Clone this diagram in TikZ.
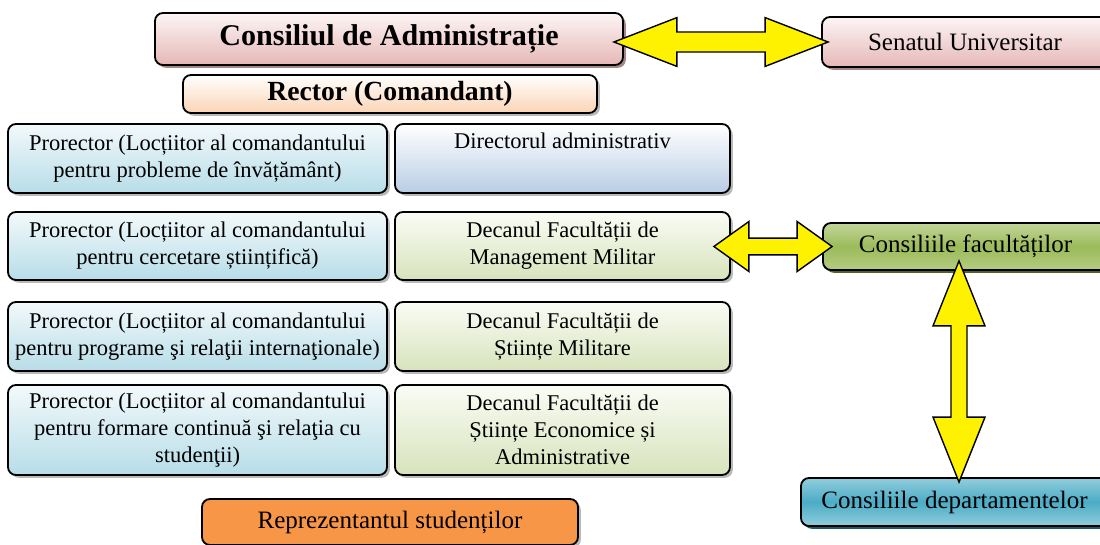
\documentclass[tikz,border=0pt]{standalone}
\usepackage{fontspec}
\setmainfont{Liberation Serif}
\usetikzlibrary{positioning}
\usetikzlibrary{shadows}
\usetikzlibrary{calc}

\definecolor{pinktop}{RGB}{253,245,245}
\definecolor{pinkbot}{RGB}{229,184,183}
\definecolor{pinkshad}{RGB}{165,135,135}
\definecolor{peachbot}{RGB}{251,212,180}
\definecolor{bluetop}{RGB}{243,249,251}
\definecolor{bluebot}{RGB}{183,221,232}
\definecolor{steelbot}{RGB}{185,205,229}
\definecolor{greentop}{RGB}{250,252,245}
\definecolor{greenbot}{RGB}{215,227,188}
\definecolor{factop}{RGB}{195,214,155}
\definecolor{facmid}{RGB}{155,187,89}
\definecolor{facbot}{RGB}{180,204,130}
\definecolor{facshad}{RGB}{79,98,40}
\definecolor{deptop}{RGB}{146,205,220}
\definecolor{depmid}{RGB}{75,172,198}
\definecolor{depshad}{RGB}{32,88,103}
\definecolor{studfill}{RGB}{247,150,70}

% fat double arrow: start, end, head length, head half width, shaft half width
\newcommand{\fatarrow}[5]{%
 \draw[fatarrow] (#1)
  -- ($(#1)!#3!(#2)!#4!90:(#2)$)  -- ($(#1)!#3!(#2)!#5!90:(#2)$)
  -- ($(#2)!#3!(#1)!#5!-90:(#1)$) -- ($(#2)!#3!(#1)!#4!-90:(#1)$)
  -- (#2)
  -- ($(#2)!#3!(#1)!#4!90:(#1)$)  -- ($(#2)!#3!(#1)!#5!90:(#1)$)
  -- ($(#1)!#3!(#2)!#5!-90:(#2)$) -- ($(#1)!#3!(#2)!#4!-90:(#2)$)
  -- cycle;}

\begin{document}
\begin{tikzpicture}[x=0.025cm, y=-0.025cm,
  box/.style={draw=black, line width=1.3pt, rounded corners=0.2cm, inner sep=0pt, align=center,
              font=\fontsize{16}{19.2}\selectfont,
              drop shadow={shadow xshift=0.07cm, shadow yshift=-0.07cm, fill=#1, opacity=1}},
  box/.default=gray!55,
  boxsize/.style 2 args={minimum width=#1*0.025cm, minimum height=#2*0.025cm},
  bigfont/.style={font=\fontsize{17.8}{21}\selectfont},
  fatarrow/.style={draw=black, line width=1pt, fill=yellow, line join=miter}]

 \useasboundingbox (0,0) rectangle (1100,545);
 \clip (0,0) rectangle (1100,545);

 % top row
 \node[box=pinkshad, boxsize={468}{52}, top color=pinktop, bottom color=pinkbot,
       font=\bfseries\fontsize{21.4}{25}\selectfont]               (cadmin) at (389,39)  {Consiliul de Administrație};
 \node[box=pinkshad, boxsize={286}{50}, top color=pinktop, bottom color=pinkbot, bigfont] (senat) at (965,42) {Senatul Universitar};
 \node[box, boxsize={414}{38}, top color=white, bottom color=peachbot,
       font=\bfseries\fontsize{19.7}{23}\selectfont]               (rector) at (390,94)  {Rector (Comandant)};

 % prorectori
 \node[box, boxsize={379}{69}, top color=bluetop, bottom color=bluebot] (pr-inv)  at (197.5,158.5) {Prorector (Locțiitor al comandantului\\pentru probleme de învățământ)};
 \node[box, boxsize={379}{68}, top color=bluetop, bottom color=bluebot] (pr-cerc) at (197.5,246)   {Prorector (Locțiitor al comandantului\\pentru cercetare științifică)};
 \node[box, boxsize={379}{69}, top color=bluetop, bottom color=bluebot] (pr-int)  at (197.5,336.5) {Prorector (Locțiitor al comandantului\\pentru programe şi relaţii internaţionale)};
 \node[box, boxsize={379}{90}, top color=bluetop, bottom color=bluebot] (pr-stud) at (197.5,430)   {Prorector (Locțiitor al comandantului\\pentru formare continuă şi relaţia cu\\studenţii)};

 % director si decani
 \node[box, boxsize={335}{69}, top color=white, bottom color=steelbot]    (director) at (562.5,158.5) {Directorul administrativ\\\strut};
 \node[box, boxsize={335}{68}, top color=greentop, bottom color=greenbot] (dec-mm)   at (562.5,246)   {Decanul Facultății de\\Management Militar};
 \node[box, boxsize={335}{69}, top color=greentop, bottom color=greenbot] (dec-sm)   at (562.5,336.5) {Decanul Facultății de\\Științe Militare};
 \node[box, boxsize={335}{90}, top color=greentop, bottom color=greenbot] (dec-sea)  at (562.5,430)   {Decanul Facultății de\\Științe Economice și\\Administrative};

 \node[box, boxsize={376}{46}, fill=studfill, bigfont] (studenti) at (390,522) {Reprezentantul studenților};

 % consilii
 \node[box=facshad, boxsize={285}{47}, top color=factop, bottom color=facbot, middle color=facmid, bigfont] (cons-fac) at (965.5,246.5) {Consiliile facultăților};
 \node[box=depshad, boxsize={307}{48}, top color=deptop, bottom color=deptop, middle color=depmid, bigfont] (cons-dep) at (954.5,502) {Consiliile departamentelor};

 % arrow ends
 \coordinate (a1s) at ($(cadmin.east |- senat.west)+(-10,0)$);
 \coordinate (a1e) at ($(senat.west)+(7,0)$);
 \coordinate (a2s) at ($(dec-mm.east |- cons-fac.west)+(-17,0)$);
 \coordinate (a2e) at ($(cons-fac.west)+(10,0)$);
 \coordinate (a3s) at ($(cons-fac.south)+(-6.5,-10)$);
 \coordinate (a3e) at ($(a3s |- cons-dep.north)+(0,5)$);

 \fatarrow{a1s}{a1e}{1.575cm}{0.61cm}{0.25cm}
 \fatarrow{a2s}{a2e}{0.875cm}{0.625cm}{0.21cm}
 \fatarrow{a3s}{a3e}{1.625cm}{0.65cm}{0.2cm}
\end{tikzpicture}
\end{document}
